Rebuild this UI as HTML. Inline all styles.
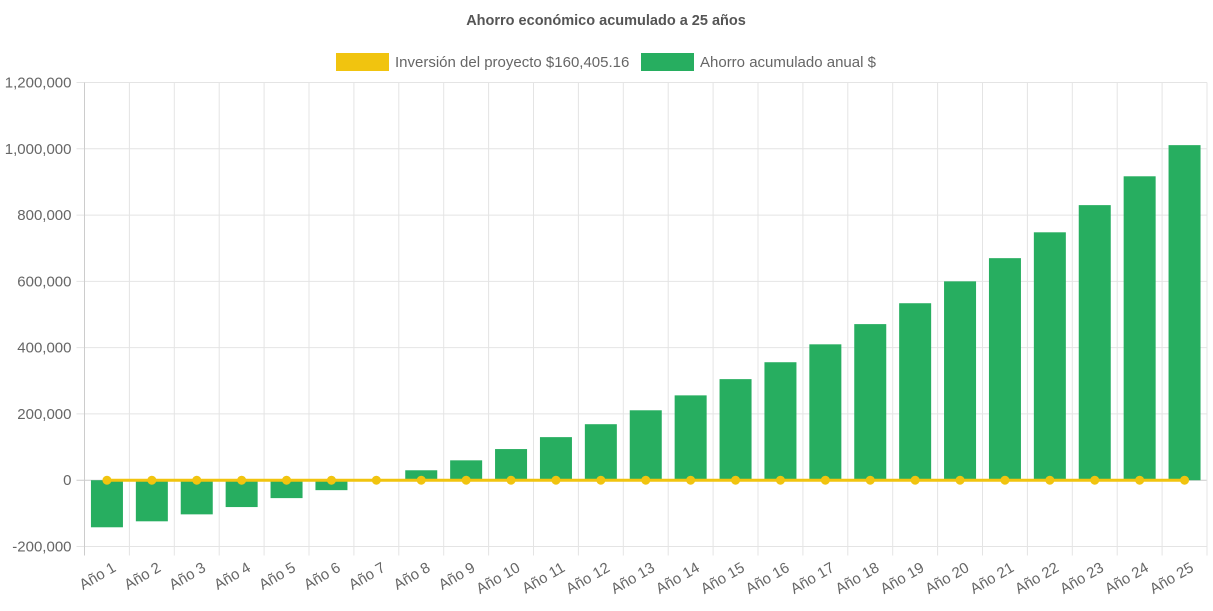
<!DOCTYPE html>
<html><head><meta charset="utf-8"><style>
body{margin:0;background:#fff;width:1213px;height:606px;overflow:hidden;font-family:"Liberation Sans",Arial,sans-serif}
</style></head><body>
<svg id="chart" width="1213" height="606" xmlns="http://www.w3.org/2000/svg" font-family="Liberation Sans, Arial, sans-serif">
<text x="606" y="25" text-anchor="middle" font-size="14.5" font-weight="bold" fill="#555">Ahorro económico acumulado a 25 años</text>
<g>
<rect x="336" y="53" width="53" height="18" fill="#f1c40f"/>
<text x="395" y="67" font-size="15" fill="#666">Inversión del proyecto $160,405.16</text>
<rect x="641" y="53" width="53" height="18" fill="#27ae60"/>
<text x="700" y="67" font-size="15" fill="#666">Ahorro acumulado anual $</text>
</g>
<g id="grid"></g><g id="bars"></g><g id="line"></g><g id="axes"></g>
</svg>
<script>
const categories=["Año 1","Año 2","Año 3","Año 4","Año 5","Año 6","Año 7","Año 8","Año 9","Año 10","Año 11","Año 12","Año 13","Año 14","Año 15","Año 16","Año 17","Año 18","Año 19","Año 20","Año 21","Año 22","Año 23","Año 24","Año 25"];
const savings=[-142000,-124000,-103000,-81000,-54000,-30000,0,30000,60000,94000,130000,169000,211000,256000,305000,356000,410000,471000,534000,600000,670000,748000,830000,917000,1011000];
const investment=[0,0,0,0,0,0,0,0,0,0,0,0,0,0,0,0,0,0,0,0,0,0,0,0,0];
const yTicks=[-200000,0,200000,400000,600000,800000,1000000,1200000];
const NS="http://www.w3.org/2000/svg";
const L=84.5,R=1207,T=82.5,B=546.5,yMin=-200000,yMax=1200000;
const n=categories.length,bw=(R-L)/n;
const y=v=>B-(v-yMin)/(yMax-yMin)*(B-T);
const xc=i=>L+bw*(i+0.5);
function mk(tag,attrs,parent){const e=document.createElementNS(NS,tag);for(const k in attrs)e.setAttribute(k,attrs[k]);document.getElementById(parent).appendChild(e);return e;}
yTicks.forEach(t=>{
 const g=mk('line',{x1:L-8,x2:R,y1:y(t),y2:y(t),stroke:t===0?'#ccc':'#e4e4e4','stroke-width':1},'grid');
 
 
 const tx=mk('text',{x:L-13,y:y(t)+5,'text-anchor':'end','font-size':15,fill:'#666'},'axes');
 tx.textContent=t.toLocaleString('en-US');
 
 
});
for(let i=0;i<=n;i++){
 const gx=L+bw*i;
 const g=mk('line',{x1:gx,x2:gx,y1:T,y2:B+9,stroke:i===0?'#ccc':'#e4e4e4','stroke-width':1},'grid');
 
 
}
categories.forEach((c,i)=>{
 const v=savings[i];
 const y0=y(0),y1=y(v);
 const r=mk('rect',{x:xc(i)-16,y:Math.min(y0,y1),width:32,height:Math.abs(y1-y0),fill:'#27ae60'},'bars');
 
 
 const tx=mk('text',{x:0,y:0,'text-anchor':'end','font-size':15,fill:'#666',transform:`translate(${xc(i)+10},${B+24}) rotate(-30)`},'axes');
 tx.textContent=c;
 
 
});
const pl=mk('polyline',{points:investment.map((v,i)=>xc(i)+','+y(v)).join(' '),fill:'none',stroke:'#f1c40f','stroke-width':3},'line');


investment.forEach((v,i)=>{
 const p=mk('circle',{cx:xc(i),cy:y(v),r:4.5,fill:'#f1c40f'},'line');
 
 
});
</script>
</body></html>
